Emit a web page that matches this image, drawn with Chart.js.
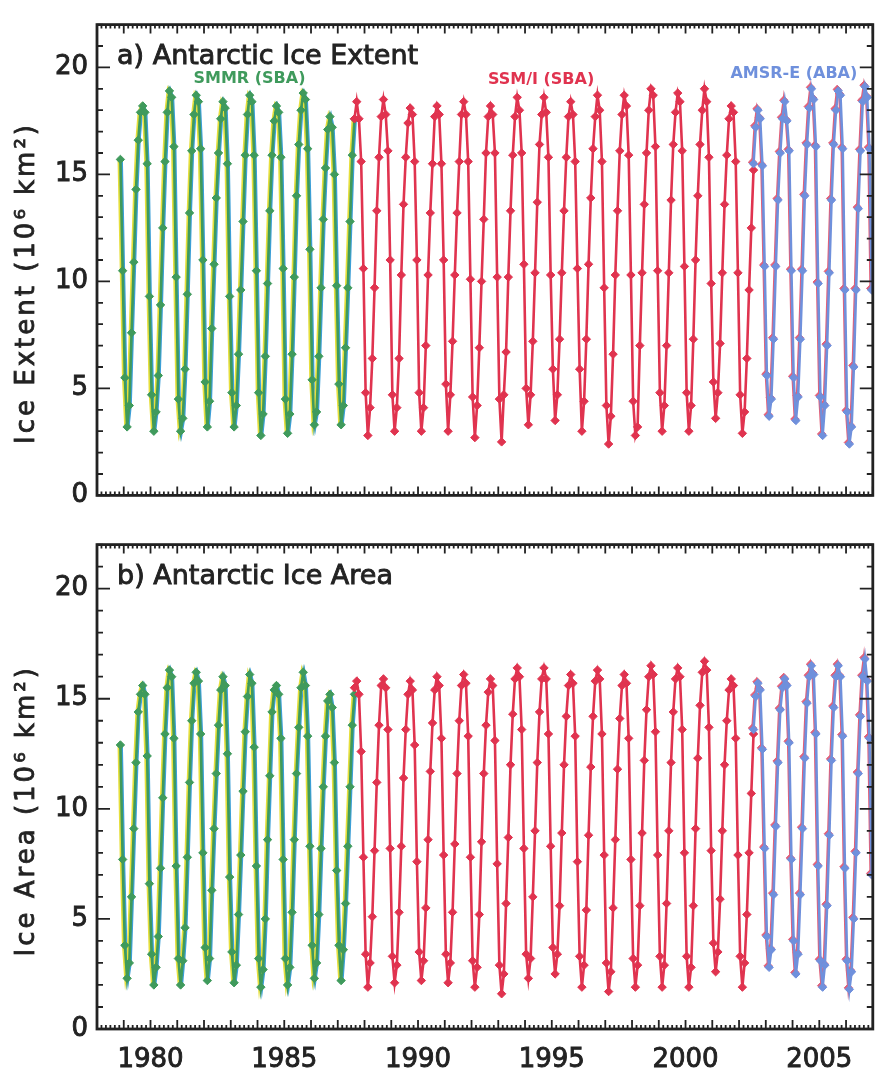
<!DOCTYPE html>
<html>
<head>
<meta charset="utf-8">
<script src="https://cdn.jsdelivr.net/npm/chart.js@4.4.1/dist/chart.umd.min.js"></script>
<style>
  body { margin: 0; background: #fff; width: 878px; height: 1080px; position: relative; overflow: hidden; }
  .panel { position: absolute; left: 0; width: 878px; }
  #panel-a { top: 0; height: 520px; }
  #panel-b { top: 520px; height: 560px; }
</style>
</head>
<body>
<div class="panel" id="panel-a"><canvas id="chart-extent"></canvas></div>
<div class="panel" id="panel-b"><canvas id="chart-area"></canvas></div>
<script>
// monthly values, 10^6 km^2
// SMMR starts Nov 1978, SSM/I starts Aug 1987, AMSR-E starts Jul 2002
const smmrStart = [1978, 11];
const ssmiStart = [1987, 8];
const amsrStart = [2002, 7];

const smmrExtent = [
  15.7, 10.5,
  5.5, 3.2, 4.2, 7.6, 10.9, 14.3, 16.6, 17.9, 18.2, 17.9, 15.5, 9.3,
  4.7, 3.0, 3.9, 5.6, 8.9, 12.5, 15.6, 17.9, 18.9, 18.6, 16.3, 10.2,
  4.5, 3.0, 3.6, 5.9, 9.4, 13.2, 16.1, 17.8, 18.7, 18.4, 16.2, 11.0,
  5.3, 3.2, 4.4, 7.8, 10.8, 13.9, 16.0, 17.6, 18.4, 18.1, 15.5, 9.3,
  4.8, 3.2, 4.2, 6.6, 9.6, 12.8, 15.9, 17.8, 18.7, 18.4, 15.9, 10.5,
  4.8, 2.8, 3.8, 6.5, 9.9, 13.3, 15.9, 17.5, 18.2, 17.9, 15.8, 10.6,
  4.5, 2.9, 3.8, 6.6, 10.2, 14.0, 16.4, 18.0, 18.8, 18.5, 16.2, 11.5,
  5.4, 3.3, 3.9, 6.5, 9.7, 12.9, 15.3, 17.1, 17.7, 17.2, 15.0, 9.8,
  5.2, 3.3, 4.2, 6.9, 9.7, 12.8, 15.9, 17.6
];
const ssmiExtent = [
  17.6, 18.4, 17.6, 15.6, 10.6,
  4.8, 2.8, 4.1, 6.4, 9.7, 13.3, 15.8, 17.7, 18.5, 17.8, 16.1, 11.0,
  4.7, 3.0, 4.1, 6.4, 10.3, 13.6, 15.8, 17.4, 18.1, 17.8, 15.6, 11.0,
  4.8, 3.0, 4.1, 7.0, 10.3, 13.2, 15.5, 17.7, 18.2, 17.8, 15.5, 11.0,
  5.2, 3.0, 4.7, 7.2, 10.3, 13.2, 15.6, 17.8, 18.4, 17.8, 15.6, 10.1,
  4.6, 2.7, 4.2, 6.9, 10.0, 12.9, 16.0, 17.7, 18.2, 17.8, 16.0, 10.2,
  4.5, 2.5, 4.7, 6.7, 10.2, 13.3, 15.9, 17.7, 18.6, 18.0, 16.0, 10.8,
  5.0, 3.3, 4.7, 7.2, 10.4, 13.7, 16.4, 17.8, 18.6, 17.9, 15.8, 10.3,
  5.9, 3.5, 4.7, 7.3, 10.4, 13.3, 15.8, 17.7, 18.4, 17.8, 15.6, 10.6,
  5.9, 3.0, 4.4, 7.3, 10.8, 13.9, 16.2, 17.7, 18.7, 18.0, 15.6, 9.7,
  4.2, 2.4, 3.7, 6.6, 10.3, 13.3, 16.1, 17.8, 18.7, 18.2, 15.9, 10.3,
  4.4, 2.8, 3.2, 7.0, 10.4, 13.6, 16.0, 18.0, 19.0, 18.7, 16.3, 10.5,
  4.8, 3.0, 4.2, 7.0, 10.4, 13.8, 16.4, 17.9, 18.8, 18.4, 16.1, 10.7,
  4.8, 3.0, 4.2, 7.3, 11.0, 14.0, 16.4, 18.0, 19.0, 18.4, 15.8, 9.9,
  5.3, 3.6, 4.8, 7.1, 10.4, 13.6, 15.9, 17.6, 18.2, 17.9, 15.6, 10.4,
  4.7, 2.9, 3.9, 6.4, 9.6, 12.5, 15.2
];
const amsrExtent = [
  15.5, 17.2, 18.0, 17.6, 15.4, 10.7,
  5.6, 3.7, 4.5, 7.3, 10.7, 13.8, 16.0, 17.6, 18.4, 17.5, 16.1, 10.5,
  5.5, 3.5, 4.6, 7.3, 10.5, 14.0, 16.4, 18.1, 19.0, 18.5, 16.3, 9.9,
  4.6, 2.8, 4.2, 7.0, 10.4, 13.8, 16.4, 18.0, 18.9, 18.7, 16.2, 9.6,
  3.9, 2.4, 3.2, 6.0, 9.6, 13.4, 16.1, 18.4, 19.1, 18.6, 16.2, 9.6
];

const smmrArea = [
  12.9, 7.7,
  3.8, 2.3, 3.0, 6.0, 9.1, 12.1, 14.4, 15.2, 15.6, 15.2, 12.4, 6.6,
  3.4, 2.0, 2.8, 4.2, 7.3, 10.5, 13.4, 15.5, 16.3, 16.0, 13.2, 7.4,
  3.2, 2.0, 3.1, 4.6, 7.8, 11.2, 14.0, 15.7, 16.2, 15.8, 13.4, 8.0,
  3.7, 2.2, 3.2, 6.3, 9.1, 11.6, 13.8, 15.4, 16.0, 15.6, 12.5, 6.9,
  3.5, 2.1, 2.9, 5.2, 7.9, 10.8, 13.5, 15.1, 16.1, 15.7, 12.8, 7.4,
  3.2, 1.9, 2.7, 5.0, 8.6, 11.5, 14.4, 15.4, 15.6, 15.2, 13.2, 7.7,
  3.2, 2.0, 2.8, 5.3, 8.6, 11.6, 13.7, 15.5, 16.2, 15.6, 13.3, 8.3,
  3.8, 2.3, 3.0, 5.2, 8.2, 11.0, 13.3, 14.9, 15.2, 14.6, 12.1, 7.2,
  3.8, 2.2, 3.6, 5.7, 8.3, 11.0, 13.8, 15.2
];
const ssmiArea = [
  15.5, 15.8, 15.2, 12.6, 7.8,
  3.4, 1.9, 3.0, 5.1, 8.1, 11.2, 13.8, 15.6, 15.9, 15.5, 13.6, 8.2,
  3.3, 2.1, 2.9, 5.3, 8.3, 11.4, 13.6, 15.2, 15.8, 15.4, 12.9, 7.6,
  3.5, 2.2, 3.1, 5.5, 8.6, 11.7, 13.9, 15.4, 16.0, 15.6, 13.2, 7.9,
  3.4, 2.1, 3.0, 5.3, 8.4, 11.6, 14.0, 15.6, 16.1, 15.7, 13.3, 7.8,
  3.1, 1.9, 2.8, 5.2, 8.5, 11.6, 13.8, 15.3, 15.9, 15.6, 13.1, 7.5,
  2.9, 1.6, 2.5, 5.7, 8.7, 12.0, 14.3, 15.9, 16.4, 16.0, 13.6, 8.2,
  3.4, 2.3, 3.2, 6.0, 9.0, 12.1, 14.4, 15.9, 16.4, 15.9, 13.4, 8.3,
  3.7, 2.5, 3.4, 5.6, 8.9, 12.0, 14.2, 15.6, 16.1, 15.7, 13.3, 7.6,
  3.3, 1.9, 2.9, 5.4, 8.8, 11.9, 14.2, 15.8, 16.3, 15.9, 13.4, 7.9,
  3.0, 1.7, 2.6, 5.5, 8.6, 11.8, 14.1, 15.6, 16.1, 15.7, 13.2, 7.7,
  3.2, 1.9, 2.9, 5.6, 8.9, 12.2, 14.5, 16.0, 16.5, 16.1, 13.5, 7.9,
  3.3, 1.9, 2.9, 5.7, 9.0, 12.1, 14.4, 15.9, 16.4, 16.0, 13.6, 8.0,
  3.3, 1.9, 2.8, 5.6, 9.1, 12.3, 14.7, 16.2, 16.7, 16.3, 13.7, 8.1,
  3.9, 2.6, 3.5, 5.9, 9.0, 12.0, 14.0, 15.4, 15.9, 15.6, 13.2, 7.9,
  3.3, 1.9, 3.0, 5.2, 8.0, 10.7, 13.4
];
const amsrArea = [
  13.6, 15.1, 15.7, 15.4, 12.7, 8.2,
  4.2, 2.8, 3.6, 6.1, 9.2, 12.1, 14.5, 15.5, 15.9, 15.6, 13.0, 7.7,
  4.0, 2.5, 3.4, 6.1, 9.1, 12.3, 14.8, 16.0, 16.5, 16.1, 13.4, 7.4,
  3.1, 1.9, 2.9, 5.6, 8.8, 12.2, 14.6, 16.0, 16.5, 16.0, 13.3, 7.3,
  3.1, 1.8, 2.6, 5.0, 8.0, 11.6, 14.2, 16.0, 16.8, 15.8, 13.2, 7.0
];

const xRange = [1978, 2007];
const yRange = [0, 22];
const xTickLabels = [1980, 1985, 1990, 1995, 2000, 2005];
const yTickLabels = [0, 5, 10, 15, 20];
const sensorLabels = [
  { text: 'SMMR (SBA)', x: 1983.7, y: 19.45, color: '#3f9a5c' },
  { text: 'SSM/I (SBA)', x: 1994.6, y: 19.4, color: '#e0334f' },
  { text: 'AMSR-E (ABA)', x: 2004.05, y: 19.7, color: '#6f90dc' }
];

const GREEN = '#3f9a5c';
const RED = '#e0334f';
const BLUE = '#6f90dc';
const INK = '#222222';
const FONT = "'DejaVu Sans', sans-serif";

function monthly(start, values) {
  return values.map((v, i) => ({ x: start[0] + (start[1] - 0.5 + i) / 12, y: v }));
}

function series(data, color, order, shift, withPoints) {
  return {
    data: data,
    borderColor: color,
    backgroundColor: color,
    borderWidth: 2.6,
    pointStyle: 'rectRot',
    pointRadius: withPoints ? 4.2 : 0,
    pointBorderWidth: 1,
    pointHoverRadius: 0,
    order: order,
    shift: shift || [0, 0]
  };
}

// heavier text, the print uses a medium-weight face
function inkText(ctx, text, x, y, width) {
  ctx.lineWidth = width;
  ctx.strokeStyle = ctx.fillStyle;
  ctx.strokeText(text, x, y);
  ctx.fillText(text, x, y);
}

// frame, inward ticks on all four sides, panel title, axis title, sensor labels
const framePlugin = {
  id: 'frame',
  beforeDatasetDraw(chart, args) {
    const s = args.meta._dataset.shift;
    chart.ctx.save();
    if (s) chart.ctx.translate(s[0], s[1]);
  },
  afterDatasetDraw(chart) {
    chart.ctx.restore();
  },
  afterDraw(chart) {
    const { ctx, chartArea: a, scales: { x, y } } = chart;
    const o = chart.options.plugins.frame;
    ctx.save();
    ctx.strokeStyle = INK;
    ctx.lineWidth = 1.8;
    ctx.beginPath();
    for (let m = xRange[0] * 6; m <= xRange[1] * 6; m++) {
      const px = x.getPixelForValue(m / 6);
      const len = m % 6 === 0 ? 9 : 4;
      ctx.moveTo(px, a.bottom); ctx.lineTo(px, a.bottom - len);
      ctx.moveTo(px, a.top); ctx.lineTo(px, a.top + len);
    }
    for (let v = yRange[0]; v <= yRange[1]; v++) {
      const py = y.getPixelForValue(v);
      const len = v % 5 === 0 ? 13 : 6;
      ctx.moveTo(a.left, py); ctx.lineTo(a.left + len, py);
      ctx.moveTo(a.right, py); ctx.lineTo(a.right - len, py);
    }
    ctx.stroke();
    ctx.lineWidth = 2.8;
    ctx.strokeRect(a.left, a.top, a.right - a.left, a.bottom - a.top);

    ctx.fillStyle = INK;
    ctx.font = '27px ' + FONT;
    ctx.textBaseline = 'middle';
    ctx.textAlign = 'left';
    inkText(ctx, o.title, a.left + 20, a.top + 32, 0.9);

    ctx.save();
    ctx.translate(27, (a.top + a.bottom) / 2 + o.yTitleShift);
    ctx.rotate(-Math.PI / 2);
    ctx.textAlign = 'center';
    ctx.font = '26px ' + FONT;
    ctx.letterSpacing = '3px';
    inkText(ctx, o.yTitle, 0, 0, 0.8);
    ctx.restore();

    ctx.font = 'bold 16px ' + FONT;
    ctx.textAlign = 'center';
    (o.labels || []).forEach(l => {
      ctx.fillStyle = l.color;
      ctx.fillText(l.text, x.getPixelForValue(l.x), y.getPixelForValue(l.y));
    });
    ctx.restore();
  }
};

function makeChart(el, smmr, ssmi, amsr, opts) {
  return new Chart(el, {
    type: 'line',
    data: {
      datasets: [
        series(monthly(amsrStart, amsr), BLUE, 1, [0, 0], true),
        series(monthly(amsrStart, amsr), '#e0607a', 2, [-1, -1.5], true),
        series(monthly(ssmiStart, ssmi), RED, 3, [0, 0], true),
        series(monthly(smmrStart, smmr), GREEN, 4, [0, 0], true),
        series(monthly(smmrStart, smmr), '#e6df3c', 5, [-1.6, 0], false),
        series(monthly(smmrStart, smmr), '#3c9fd6', 6, [1.2, 0], false)
      ]
    },
    options: {
      responsive: true,
      maintainAspectRatio: false,
      animation: false,
      layout: { padding: opts.padding },
      plugins: {
        legend: { display: false },
        tooltip: { enabled: false },
        frame: { title: opts.title, yTitle: opts.yTitle, yTitleShift: opts.yTitleShift, labels: opts.labels }
      },
      scales: {
        x: {
          type: 'linear',
          min: xRange[0],
          max: xRange[1],
          grid: { display: false, drawTicks: false },
          border: { display: false },
          afterBuildTicks: s => { s.ticks = xTickLabels.map(v => ({ value: v })); },
          afterFit: s => { s.height = opts.xHeight; },
          ticks: {
            display: opts.showX,
            padding: 16,
            color: INK,
            textStrokeColor: INK,
            textStrokeWidth: 0.9,
            font: { family: FONT, size: 26 },
            maxRotation: 0,
            callback: v => String(v)
          }
        },
        y: {
          min: yRange[0],
          max: yRange[1],
          grid: { display: false, drawTicks: false },
          border: { display: false },
          afterBuildTicks: s => { s.ticks = yTickLabels.map(v => ({ value: v })); },
          afterFit: s => { s.width = 97; },
          ticks: {
            padding: 9,
            color: INK,
            textStrokeColor: INK,
            textStrokeWidth: 0.9,
            font: { family: FONT, size: 26 }
          }
        }
      }
    },
    plugins: [framePlugin]
  });
}

makeChart(document.getElementById('chart-extent'), smmrExtent, ssmiExtent, amsrExtent, {
  title: 'a) Antarctic Ice Extent',
  yTitle: 'Ice Extent (10⁶ km²)',
  yTitleShift: 23,
  labels: sensorLabels,
  padding: { top: 10, right: 2, bottom: 15, left: 0 },
  showX: false,
  xHeight: 0
});

makeChart(document.getElementById('chart-area'), smmrArea, ssmiArea, amsrArea, {
  title: 'b) Antarctic Ice Area',
  yTitle: 'Ice Area (10⁶ km²)',
  yTitleShift: 24,
  labels: [],
  padding: { top: 12, right: 2, bottom: 0, left: 0 },
  showX: true,
  xHeight: 51
});
</script>
</body>
</html>
